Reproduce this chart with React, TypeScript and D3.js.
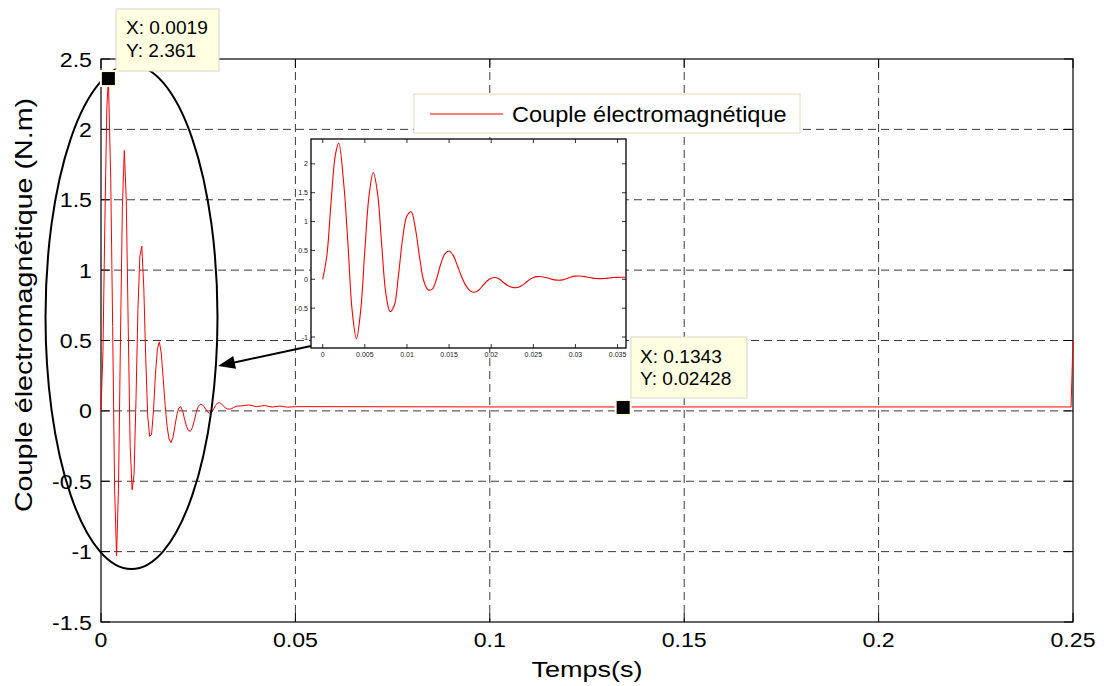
import React from 'react';
import * as d3 from 'd3';

// ---------- data ----------
const time = [
  0, 0.0005, 0.001, 0.0015, 0.0019,
  0.0025, 0.003, 0.0035, 0.004, 0.0045, 0.005, 0.0055, 0.006, 0.0065, 0.007,
  0.0075, 0.008, 0.0085, 0.009, 0.0095, 0.01, 0.0105, 0.011, 0.0115, 0.012,
  0.0125, 0.013, 0.0135, 0.014, 0.0145, 0.015, 0.0155, 0.016, 0.0165, 0.017,
  0.0175, 0.018, 0.0185, 0.019, 0.0195, 0.02, 0.0205, 0.021, 0.0215, 0.022,
  0.0225, 0.023, 0.0235, 0.024, 0.0245, 0.025, 0.0255, 0.026, 0.0265, 0.027,
  0.0275, 0.028, 0.0285, 0.029, 0.0295, 0.03, 0.0305, 0.031, 0.0315, 0.032,
  0.0325, 0.033, 0.0335, 0.034, 0.0345, 0.035, 0.0355, 0.036,
  0.038, 0.04, 0.042, 0.044, 0.046, 0.048, 0.05, 0.1, 0.15, 0.2, 0.2495, 0.25,
];
const torque = [
  0, 0.42, 1.35, 2.15, 2.361,
  1.65, 0.6, -0.55, -1.03, -0.55, 0.5, 1.45, 1.85, 1.5, 0.6,
  -0.25, -0.56, -0.45, 0.08, 0.72, 1.1, 1.17, 0.88, 0.38, -0.03,
  -0.18, -0.17, 0.0, 0.26, 0.44, 0.49, 0.41, 0.23, 0.04, -0.11,
  -0.2, -0.225, -0.19, -0.11, -0.03, 0.02, 0.03, 0.0, -0.06, -0.11,
  -0.14, -0.145, -0.12, -0.07, -0.01, 0.03, 0.046, 0.045, 0.03, 0.01,
  -0.01, -0.017, -0.01, 0.015, 0.04, 0.055, 0.058, 0.05, 0.035, 0.02,
  0.013, 0.012, 0.015, 0.022, 0.03, 0.034, 0.035, 0.035,
  0.042, 0.03, 0.038, 0.027, 0.034, 0.026, 0.03, 0.028, 0.028, 0.028, 0.028, 0.5,
];
const xTicks = [0, 0.05, 0.1, 0.15, 0.2, 0.25];
const yTicks = [-1.5, -1, -0.5, 0, 0.5, 1, 1.5, 2, 2.5];
const insetXTicks = [0, 0.005, 0.01, 0.015, 0.02, 0.025, 0.03, 0.035];
const insetYTicks = [-1, -0.5, 0, 0.5, 1, 1.5, 2];
const tipX = [0.0019, 0.1343];
const tipY = [2.361, 0.02428];
const legendLabel = 'Couple électromagnétique';
const xTitle = 'Temps(s)';
const yTitle = 'Couple électromagnétique (N.m)';

// ---------- layout ----------
const W = 1104, H = 686;
const L = 101, R = 1073, T = 59, B = 622;
const FONT = '"Liberation Sans", Arial, Helvetica, sans-serif';

const x = d3.scaleLinear().domain([0, 0.25]).range([L, R]);
const y = d3.scaleLinear().domain([-1.5, 2.5]).range([B, T]);

const IL = 311, IR = 626, IT = 139, IB = 348;
const ix = d3.scaleLinear().domain([-0.00139, 0.036]).range([IL, IR]);
const iy = d3.scaleLinear().domain([-1.19, 2.43]).range([IB, IT]);

const pts = time.map((t, i) => [t, torque[i]] as [number, number]);
const insetPts = pts.filter((p) => p[0] <= 0.036);

const mainLine = d3.line<[number, number]>().x((d) => x(d[0])).y((d) => y(d[1]));
const insetLine = d3
  .line<[number, number]>()
  .x((d) => ix(d[0]))
  .y((d) => iy(d[1]))
  .curve(d3.curveCatmullRom);

function Txt(props: {
  x: number; y: number; sx?: number; size: number; anchor?: string; rot?: number;
  fill?: string; children: React.ReactNode;
}) {
  const { sx = 1, rot = 0 } = props;
  return (
    <text
      transform={`translate(${props.x},${props.y}) rotate(${rot}) scale(${sx},1)`}
      fontSize={props.size}
      fontFamily={FONT}
      textAnchor={props.anchor || 'start'}
      fill={props.fill || '#000'}
    >
      {props.children}
    </text>
  );
}

const fmt = (v: number) => String(v);

export default function App() {
  const tip1 = { px: x(tipX[0]), py: y(tipY[0]) };
  const tip2 = { px: x(tipX[1]), py: y(tipY[1]) };
  return (
    <svg
      width={W}
      height={H}
      style={{ position: 'absolute', left: 0, top: 0, background: '#fff' }}
    >
      <rect x={0} y={0} width={W} height={H} fill="#fff" />
      {/* grid */}
      <g stroke="#3a3a3a" strokeWidth={1} strokeDasharray="8,5">
        {xTicks.slice(1, -1).map((v) => (
          <line key={'gx' + v} x1={x(v)} x2={x(v)} y1={T} y2={B} />
        ))}
        {yTicks.slice(1, -1).map((v) => (
          <line key={'gy' + v} x1={L} x2={R} y1={y(v)} y2={y(v)} />
        ))}
      </g>
      {/* ticks */}
      <g stroke="#000" strokeWidth={1}>
        {xTicks.map((v) => (
          <g key={'tx' + v}>
            <line x1={x(v)} x2={x(v)} y1={B} y2={B - 9} />
            <line x1={x(v)} x2={x(v)} y1={T} y2={T + 9} />
          </g>
        ))}
        {yTicks.map((v) => (
          <g key={'ty' + v}>
            <line x1={L} x2={L + 9} y1={y(v)} y2={y(v)} />
            <line x1={R} x2={R - 9} y1={y(v)} y2={y(v)} />
          </g>
        ))}
      </g>
      <rect x={L} y={T} width={R - L} height={B - T} fill="none" stroke="#000" strokeWidth={1.2} />
      {/* tick labels */}
      {xTicks.map((v) => (
        <Txt key={'lx' + v} x={x(v)} y={647} size={20.5} sx={1.13} anchor="middle">
          {fmt(v)}
        </Txt>
      ))}
      {yTicks.map((v) => (
        <Txt key={'ly' + v} x={92} y={y(v) + 7.5} size={20.5} sx={1.13} anchor="end">
          {fmt(v)}
        </Txt>
      ))}
      <Txt x={(L + R) / 2} y={677} size={22.5} sx={1.2} anchor="middle">
        {xTitle}
      </Txt>
      <Txt x={32} y={305} size={23.5} sx={1.22} rot={-90} anchor="middle">
        {yTitle}
      </Txt>

      {/* main curve */}
      <path d={mainLine(pts) || ''} fill="none" stroke="#ff0000" strokeWidth={1} />

      {/* legend */}
      <rect x={414} y={94} width={386} height={39} fill="#fff" stroke="#ead9b8" strokeWidth={1} />
      <line x1={430} x2={503} y1={114} y2={114} stroke="#ff0000" strokeWidth={1} />
      <Txt x={512} y={122} size={22} sx={1.07}>
        {legendLabel}
      </Txt>

      {/* inset */}
      <rect x={IL} y={IT} width={IR - IL} height={IB - IT} fill="#fff" stroke="#000" strokeWidth={1.3} />
      <g stroke="#000" strokeWidth={0.8}>
        {insetXTicks.map((v) => (
          <g key={'itx' + v}>
            <line x1={ix(v)} x2={ix(v)} y1={IB} y2={IB - 4} />
            <line x1={ix(v)} x2={ix(v)} y1={IT} y2={IT + 4} />
          </g>
        ))}
        {insetYTicks.map((v) => (
          <g key={'ity' + v}>
            <line x1={IL} x2={IL + 4} y1={iy(v)} y2={iy(v)} />
            <line x1={IR} x2={IR - 4} y1={iy(v)} y2={iy(v)} />
          </g>
        ))}
      </g>
      {insetXTicks.map((v) => (
        <Txt key={'ilx' + v} x={ix(v)} y={357} size={7} anchor="middle" fill="#222">
          {fmt(v)}
        </Txt>
      ))}
      {insetYTicks.map((v) => (
        <Txt key={'ily' + v} x={308} y={iy(v) + 2.5} size={7} anchor="end" fill="#222">
          {fmt(v)}
        </Txt>
      ))}
      <path d={insetLine(insetPts) || ''} fill="none" stroke="#ff0000" strokeWidth={1.1} />

      {/* ellipse + arrow */}
      <ellipse cx={131.5} cy={317} rx={86} ry={252} fill="none" stroke="#000" strokeWidth={2} />
      <line x1={311} y1={346} x2={232} y2={363} stroke="#000" strokeWidth={2} />
      <path
        d={(() => {
          const tx = 218, ty = 366, sx = 311, sy = 346;
          const ang = Math.atan2(ty - sy, tx - sx);
          const len = 17, hw = 6.5;
          const bx = tx - len * Math.cos(ang), by = ty - len * Math.sin(ang);
          const nx = -Math.sin(ang), ny = Math.cos(ang);
          return `M${tx},${ty}L${bx + nx * hw},${by + ny * hw}L${bx - nx * hw},${by - ny * hw}Z`;
        })()}
        fill="#000"
      />

      {/* data tip 1 */}
      <rect x={116} y={9} width={103} height={62} fill="#ffffe1" stroke="#d6d6cc" strokeWidth={1} />
      <Txt x={126} y={34} size={17.7} sx={1.08}>X: 0.0019</Txt>
      <Txt x={126} y={57} size={17.7} sx={1.08}>Y: 2.361</Txt>
      <rect x={tip1.px - 8.5} y={tip1.py - 8.5} width={17} height={17} fill="#ffffe1" />
      <rect x={tip1.px - 6.5} y={tip1.py - 6.5} width={13} height={13} fill="#000" />

      {/* data tip 2 */}
      <rect x={631} y={337} width={116} height={61} fill="#ffffe1" stroke="#d6d6cc" strokeWidth={1} />
      <Txt x={640} y={363} size={17.7} sx={1.08}>X: 0.1343</Txt>
      <Txt x={640} y={385} size={17.7} sx={1.08}>Y: 0.02428</Txt>
      <rect x={tip2.px - 8.5} y={tip2.py - 8.5} width={17} height={17} fill="#ffffe1" />
      <rect x={tip2.px - 6.5} y={tip2.py - 6.5} width={13} height={13} fill="#000" />
    </svg>
  );
}
